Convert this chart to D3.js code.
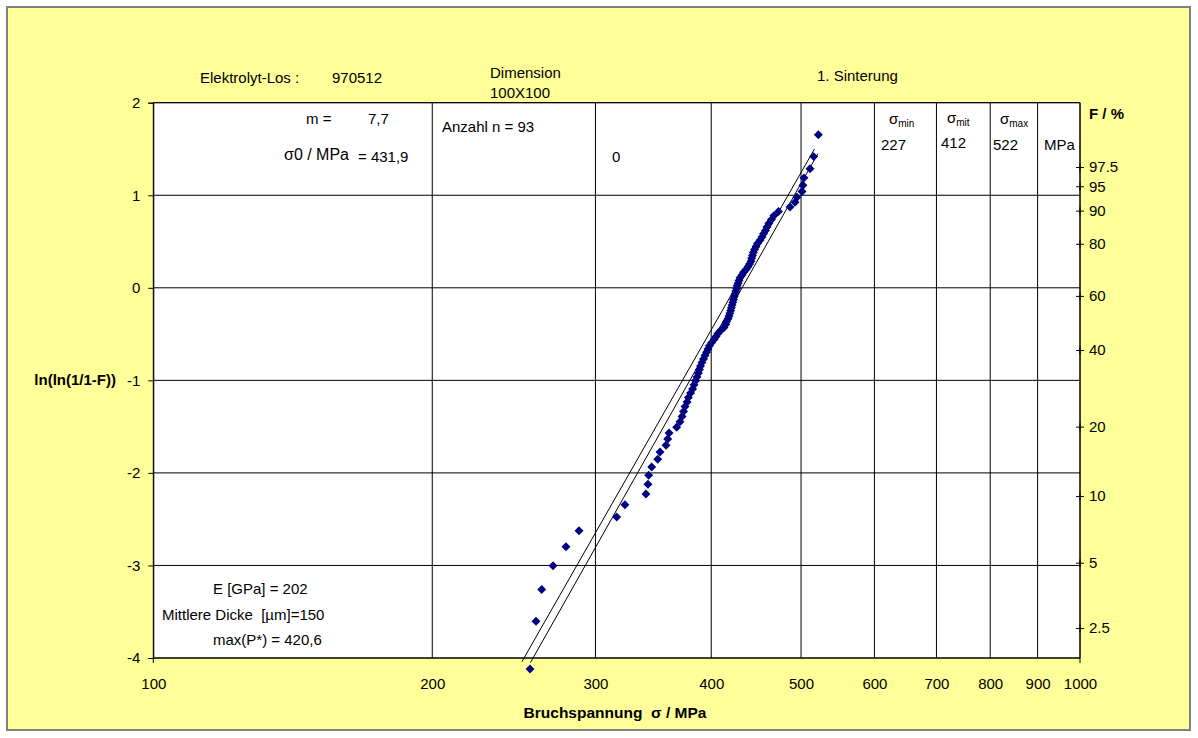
<!DOCTYPE html>
<html lang="de">
<head>
  <meta charset="UTF-8" />
  <title>Weibull-Diagramm Bruchspannung</title>
  <script src="https://d3js.org/d3.v7.min.js"></script>
  <style>
    body { margin: 0; background: #fff; }
    svg text { font-family: "Liberation Sans", Arial, sans-serif; font-size: 15px; fill: #000; white-space: pre; }
    .axis text { font-size: 15px; font-family: "Liberation Sans", Arial, sans-serif; }
    .axis path, .axis line { stroke: #000; }
    .grid line { stroke: #000; stroke-width: 1px; }
    .fit { fill: none; stroke: #000; stroke-width: 1px; }
    .bold { font-weight: bold; }
  </style>
</head>
<body>
<script>
  // Bruchspannungen sigma / MPa, sortiert (n = 93)
  const strengths = [
    227, 255.0, 258.8, 262.5, 270.0, 278.8, 288.0, 316.3, 322.8, 340.1,
    341.8, 342.4, 345.0, 350.2, 352.2, 357.5, 359.0, 360.2, 367.1, 370.1,
    372.0, 373.4, 374.8, 376.7, 377.9, 380.0, 381.9, 383.3, 384.7, 386.1,
    387.4, 388.5, 389.5, 390.9, 392.4, 393.9, 395.4, 396.8, 398.3, 400.3,
    402.8, 404.8, 406.8, 409.4, 412.9, 414.5, 415.5, 417.1, 418.1, 419.0,
    419.8, 420.5, 421.3, 422.0, 422.7, 423.4, 424.4, 425.2, 426.0, 426.6,
    427.6, 428.6, 429.7, 431.9, 433.5, 436.2, 438.3, 440.0, 441.6, 442.3,
    443.2, 444.1, 445.5, 447.1, 448.7, 451.5, 453.8, 455.5, 457.7, 459.4,
    461.7, 464.6, 467.5, 472.8, 486.5, 492.6, 495.0, 501.2, 502.4, 503.7,
    511.3, 516.0, 522
  ];

  // Weibull-Parameter (Regressionsgerade) und zweite Gerade, Endpunkte [sigma, y]
  const weibullM = 7.7, sigma0 = 431.9;
  const fitRangeY = [-4.05, 1.45];
  const fitLineA = [[249.9, -4.04], [517.0, 1.50]];

  const xTicks = [100, 200, 300, 400, 500, 600, 700, 800, 900, 1000];
  const yTicks = [-4, -3, -2, -1, 0, 1, 2];
  const fTicks = [2.5, 5, 10, 20, 40, 60, 80, 90, 95, 97.5];

  const W = 1198, H = 738;
  const pLeft = 153.3, pRight = 1080, pTop = 102.7, pBottom = 658;

  const lnln = F => Math.log(-Math.log(1 - F));
  const n = strengths.length;
  const points = strengths.map((s, i) => ({ s: s, y: lnln((i + 0.5) / n) }));
  const fitLineB = fitRangeY.map(v => [sigma0 * Math.exp(v / weibullM), v]);

  const svg = d3.select("body").append("svg")
    .attr("width", W).attr("height", H);

  // Hintergrund
  svg.append("rect")
    .attr("x", 7).attr("y", 7).attr("width", 1183).attr("height", 723)
    .attr("fill", "#FFFF99").attr("stroke", "#808080").attr("stroke-width", 2);

  svg.append("rect")
    .attr("x", pLeft).attr("y", pTop)
    .attr("width", pRight - pLeft).attr("height", pBottom - pTop)
    .attr("fill", "#fff");

  const x = d3.scaleLog().domain([100, 1000]).range([pLeft, pRight]);
  const y = d3.scaleLinear().domain([-4, 2]).range([pBottom, pTop]);

  // Gitternetz
  const grid = svg.append("g").attr("class", "grid");
  grid.selectAll(".v").data(xTicks).enter().append("line")
    .attr("x1", d => x(d)).attr("x2", d => x(d))
    .attr("y1", pTop).attr("y2", pBottom);
  grid.selectAll(".h").data(yTicks).enter().append("line")
    .attr("x1", pLeft).attr("x2", pRight)
    .attr("y1", d => y(d)).attr("y2", d => y(d));

  // Achsen
  svg.append("g").attr("class", "axis")
    .attr("transform", `translate(${pLeft},0)`)
    .call(d3.axisLeft(y).tickValues(yTicks).tickSize(5).tickPadding(8).tickFormat(d => String(d)));

  const xAxis = svg.append("g").attr("class", "axis")
    .attr("transform", `translate(0,${pBottom})`)
    .call(d3.axisBottom(x).tickValues(xTicks).tickSize(0).tickPadding(20).tickFormat(d => String(d)));
  xAxis.select(".domain").remove();
  svg.append("line").attr("x1", pLeft).attr("x2", pRight)
    .attr("y1", pBottom).attr("y2", pBottom).attr("stroke", "#000");
  svg.selectAll(".xmaj").data([100, 1000]).enter().append("line")
    .attr("x1", d => x(d)).attr("x2", d => x(d))
    .attr("y1", pBottom).attr("y2", pBottom + 5).attr("stroke", "#000");

  // rechte Achse F / %
  const fAxis = svg.append("g").attr("class", "axis")
    .attr("transform", `translate(${pRight},0)`)
    .call(d3.axisRight(y)
      .tickValues(fTicks.map(f => lnln(f / 100)))
      .tickSize(4).tickPadding(5)
      .tickFormat((d, i) => fTicks[i]));
  fAxis.select(".domain").remove();
  fAxis.selectAll(".tick").append("line").attr("x1", -4).attr("x2", 0).attr("stroke", "#000");
  fAxis.selectAll(".tick").append("line").attr("y1", -4).attr("y2", 4).attr("stroke", "#000");

  svg.append("line").attr("x1", pRight).attr("x2", pRight)
    .attr("y1", pTop).attr("y2", pBottom).attr("stroke", "#000");
  svg.append("line").attr("x1", pLeft).attr("x2", pRight)
    .attr("y1", pTop).attr("y2", pTop).attr("stroke", "#000");

  // Ausgleichsgeraden
  const line = d3.line().x(d => x(d[0])).y(d => y(d[1]));
  svg.append("path").attr("class", "fit").attr("d", line(fitLineA));
  svg.append("path").attr("class", "fit").attr("d", line(fitLineB));

  // Messpunkte
  const diamond = d3.symbol().type(d3.symbolSquare).size(40);
  svg.append("g").selectAll("path").data(points).enter().append("path")
    .attr("d", diamond)
    .attr("fill", "#000080")
    .attr("transform", d => `translate(${x(d.s)},${y(d.y)}) rotate(45)`);

  // Beschriftungen
  const txt = (tx, ty, s, cls) => svg.append("text").attr("x", tx).attr("y", ty)
    .attr("class", cls || null).text(s);

  txt(200, 83, "Elektrolyt-Los :");
  txt(332, 83, "970512");
  txt(490, 78, "Dimension");
  txt(490, 98, "100X100");
  txt(817, 81, "1. Sinterung");

  txt(306, 124, "m =");
  txt(368, 124, "7,7");
  txt(284, 160, "σ0 / MPa").style("font-size", "16px");
  txt(358, 162, "= 431,9");
  txt(442, 132, "Anzahl n = 93");
  txt(612, 162, "0");

  const sig = (tx, ty, sub) => {
    const t = svg.append("text").attr("x", tx).attr("y", ty);
    t.append("tspan").text("σ");
    t.append("tspan").attr("dy", 3).style("font-size", "10px").text(sub);
  };
  sig(889, 124, "min");
  sig(947, 123, "mit");
  sig(1000, 124, "max");
  txt(881, 150, "227");
  txt(941, 148, "412");
  txt(993, 150, "522");
  txt(1044, 150, "MPa");
  txt(1089, 119, "F / %", "bold");

  txt(213, 594, "E [GPa] = 202");
  txt(162, 620, "Mittlere Dicke  [µm]=150");
  txt(213, 645, "max(P*) = 420,6");

  txt(116, 385, "ln(ln(1/1-F))", "bold").attr("text-anchor", "end");
  txt(615, 718, "Bruchspannung  σ / MPa", "bold").attr("text-anchor", "middle").style("font-size", "15.5px");
</script>
</body>
</html>
